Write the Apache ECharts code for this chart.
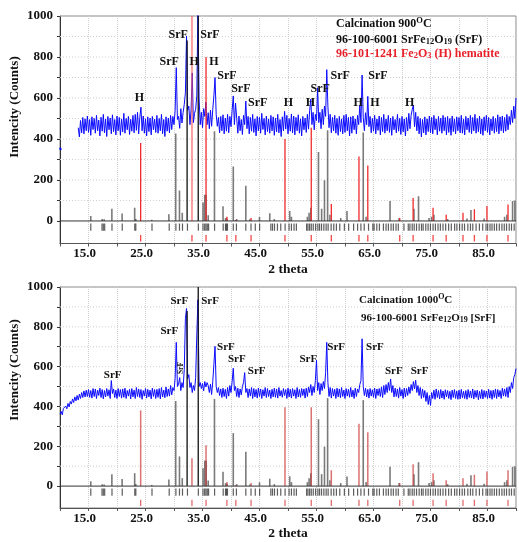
<!DOCTYPE html>
<html><head><meta charset="utf-8">
<script src="https://cdn.jsdelivr.net/npm/echarts@6/dist/echarts.min.js"></script>
<style>html,body{margin:0;padding:0;background:#fff}#c{width:519px;height:542px}</style>
</head><body><div id="c"></div>
<script>
const SERIF = '"Liberation Serif","Times New Roman",serif';

// axes
const thetaMin = 10, thetaMax = 90, thetaTickStep = 5;
const xTickLabels = [15, 25, 35, 45, 55, 65, 75, 85];
const yMin = -110, yMax = 1000;
const yLabelValues = [0, 200, 400, 600, 800, 1000];
const yGridValues = [100, 200, 300, 400, 500, 600, 700, 800, 900, 1000];
const yTickValues = [0, 100, 200, 300, 400, 500, 600, 700, 800, 900, 1000];

// measured scans (counts), regular 2-theta steps
const scanStep = 0.2;
const scanTopStart = 13.2;
const scanTopCounts = [
 455,410,490,430,
 505,425,498,440,512, 432,495,418,508,446, 500,428,515,440,492, 415,506,438,520,430,
 497,412,510,445,502, 425,518,436,495,420, 512,440,505,418,498, 435,525,428,500,445,
 510,422,496,438,515, 430,520,442,530,425, 505,555,440,512,428, 498,415,508,436,502,
 420,510,445,497,432, 515,428,500,440,520, 426,495,412,508,438, 502,430,515,446,510,
 470,540,748,495,510, 452,548,478,530,568, 625,902,540,560,470, 545,722,480,525,545,
 610,1040,600,470,530, 455,548,510,580,470, 528,450,540,462,545, 610,700,520,462,505,
 430,510,440,518,425, 502,438,520,430,510, 460,540,610,470,575, 500,428,512,440,495,
 422,515,470,585,450, 510,425,505,438,520, 432,498,415,510,440, 505,428,525,446,500,
 420,512,436,498,428, 515,440,508,418,502, 435,520,430,495,412, 508,440,535,448,515,
 425,500,438,522,430, 512,420,505,440,518, 428,498,415,510,445, 502,432,520,448,540,
 595,470,530,445,520, 490,650,480,530,450, 545,470,560,510,738, 560,455,520,430,505,
 440,515,428,500,418, 510,436,498,425,515, 432,520,440,505,415, 508,428,512,445,498,
 425,515,470,565,480, 712,505,440,528,470, 608,460,510,430,500, 438,515,425,498,442,
 512,420,505,436,520, 428,498,440,515,432, 502,418,510,445,495, 430,520,438,500,422,
 510,435,498,415,505, 440,525,450,515,545, 565,460,530,440,510, 425,500,410,495,430,
 508,420,498,436,512, 430,505,425,515,445, 498,420,510,438,502, 428,515,440,505,420,
 510,432,500,418,512, 436,498,425,508,440, 505,430,515,428,498, 420,510,445,502,432,
 515,426,505,440,520, 428,500,435,512,425, 498,418,508,440,515, 432,505,420,498,440,
 510,428,500,436,518, 425,508,440,512,430, 505,438,520,445,510, 470,540,480,560,500,
 600
];
const scanTopLeadTheta = [10.0, 10.15];
const scanTopLeadCounts = [358, 346];

const scanBottomStart = 10.0;
const scanBottomCounts = [
 362,375,358,390,380, 402,388,415,398,425, 412,438,420,448,428, 455,432,462,440,470,
 445,478,448,482,450, 485,446,480,442,490, 450,488,440,482,455, 492,445,485,438,480,
 448,490,452,484,440, 530,465,488,445,482, 440,490,450,485,442, 488,446,492,440,480,
 452,486,438,490,448, 482,440,495,450,488, 445,485,436,480,452, 490,442,486,448,482,
 438,492,450,485,440, 486,446,490,438,495, 448,482,444,498,450, 488,452,505,458,495,
 480,540,722,500,512, 545,480,520,495,585, 842,892,540,560,495, 520,470,505,480,545,
 760,936,500,520,490, 515,478,525,498,520, 505,470,512,460,525, 612,702,500,470,495,
 455,488,445,492,450, 486,440,495,452,505, 470,525,592,480,500, 450,492,445,488,458,
 500,520,570,470,490, 445,488,452,495,440, 490,448,485,442,492, 450,488,440,484,452,
 495,445,490,450,482, 440,486,448,492,446, 488,442,495,452,480, 446,490,455,485,440,
 492,448,486,442,490, 452,484,440,495,448, 485,446,490,455,488, 442,492,450,498,470,
 510,455,500,470,530, 632,480,520,460,515, 480,525,490,570,722, 520,450,495,442,490,
 452,486,440,492,448, 488,444,495,450,482, 440,490,452,486,446, 495,448,482,440,492,
 450,488,470,510,530, 740,500,455,492,448, 486,442,490,452,484, 446,492,440,488,455,
 490,450,498,445,505, 460,510,470,520,480, 538,470,505,448,492, 450,488,442,495,452,
 485,440,492,448,490, 455,498,465,510,480, 525,488,532,470,505, 455,495,440,488,445,
 480,425,470,410,455, 405,470,440,482,436, 488,445,480,438,485, 442,478,436,484,448,
 480,440,476,434,482, 445,485,440,478,436, 482,438,486,444,476, 440,480,436,485,445,
 478,442,488,438,480, 446,482,434,476,440, 485,438,480,446,478, 440,486,442,480,436,
 482,445,488,440,485, 448,480,440,492,452, 488,450,495,445,500, 470,520,490,545,560,
 590
];

// reference patterns: SrFe12O19 (black) and Fe2O3 hematite (red)
const srfTheta = [15.4,17.4,17.75,19.1,20.9,23.1,23.3,26.1,29.1,30.3,30.96,31.45,32.3,34.25,35.1,35.4,35.65,36.0,37.1,38.6,39.05,39.3,40.4,41.0,42.6,43.3,45.0,46.8,47.6,50.3,50.6,53.4,53.7,54.0,55.35,55.9,56.4,56.95,57.35,59.25,60.35,63.2,63.7,67.9,69.5,72.1,72.9,74.75,75.2,75.6,78.0,81.4,82.1,84.4,88.0,88.4,89.4,89.8];
const srfHeight = [24,9,8,60,36,65,10,6,33,427,149,40,880,1000,90,128,128,28,438,72,15,12,266,10,172,8,19,37,10,49,20,20,40,65,336,60,198,442,30,15,48,432,20,97,15,60,120,15,20,30,10,12,54,12,20,30,97,100];
const hemTheta = [24.15,33.15,35.62,39.28,40.85,43.52,49.47,54.08,57.6,62.45,64.0,69.6,71.95,75.45,77.75,80.7,82.7,84.9,88.6];
const hemHeightTop = [380,1000,800,20,5,15,400,455,83,314,270,15,112,65,30,40,57,73,80];
const hemHeightBottom = [380,140,205,20,5,15,396,396,80,313,270,15,110,65,30,40,57,73,80];
const srfTickTheta = [15.4,17.37,17.6,17.84,19.12,20.92,23.12,23.3,26.14,29.16,30.33,30.96,31.49,32.36,34.27,35.09,35.38,35.61,35.84,36.07,37.12,38.63,39.04,39.21,39.38,40.4,40.95,42.6,43.51,44.26,45.02,46.99,47.28,47.63,48.15,48.73,49.49,50.19,50.6,51.06,51.47,53.27,53.5,53.79,54.08,54.43,54.84,55.24,55.53,55.88,56.29,56.69,57.04,57.57,58.03,58.49,59.08,59.89,60.64,61.51,62.21,62.79,63.37,64.13,64.88,65.11,65.58,66.04,66.74,67.2,67.61,68.08,68.48,68.95,69.35,70.34,71.1,71.39,71.79,72.14,72.55,73.01,73.42,73.71,74.17,74.58,74.99,75.45,75.86,76.32,76.73,77.19,77.66,78.18,78.65,79.23,79.63,80.1,80.56,80.97,81.55,82.01,82.42,83.0,83.58,84.16,84.74,85.03,85.44,85.79,86.2,86.6,87.07,87.53,87.94,88.34,88.81,89.21,89.68];

// peak annotations (theta, counts, text)
const peakTopTheta = [23.94,29.17,30.74,33.53,36.32,37.02,39.28,41.72,44.68,50.09,53.92,55.66,59.15,65.77,62.29,65.25,71.35];
const peakTopCount = [600,775,907,775,907,775,707,643,575,575,575,643,707,707,575,575,575];
const peakTopText = ['H','SrF','SrF','H','SrF','H','SrF','SrF','SrF','H','H','SrF','SrF','SrF','H','H','H'];
const peakBottomTheta = [19.24,29.17,30.92,36.32,39.1,41.02,44.51,53.57,58.45,65.25,68.56,73.09];
const peakBottomCount = [559,780,931,931,696,637,579,637,696,696,579,579];
const peakBottomText = ['SrF','SrF','SrF','SrF','SrF','SrF','SrF','SrF','SrF','SrF','SrF','SrF'];
const peakBottomSmall = {theta: 31.26, count: 593, text: 'SrF'};

function scanData(start, counts) { return counts.map((c, i) => [+(start + i * scanStep).toFixed(2), c]); }

function stickSeries(gi, thetas, heights, colorFn, z) {
  return {
    type: 'custom', xAxisIndex: gi, yAxisIndex: gi, z: z, silent: true, clip: true,
    data: thetas.map((t, i) => [t, heights[i]]),
    renderItem: (p, api) => {
      const a = api.coord([api.value(0), 0]), b = api.coord([api.value(0), api.value(1)]);
      const st = colorFn(api.value(1));
      return { type: 'line', shape: { x1: a[0], y1: a[1], x2: b[0], y2: b[1] }, style: { stroke: st.c, lineWidth: st.w } };
    }
  };
}
function tickRowSeries(gi, thetas, y0, y1, color, w) {
  return {
    type: 'custom', xAxisIndex: gi, yAxisIndex: gi, z: 4, silent: true, clip: true,
    data: thetas.map(t => [t, y0]),
    renderItem: (p, api) => {
      const a = api.coord([api.value(0), y0]), b = api.coord([api.value(0), y1]);
      return { type: 'line', shape: { x1: a[0], y1: a[1], x2: b[0], y2: b[1] }, style: { stroke: color, lineWidth: w } };
    }
  };
}
function hLineSeries(gi, values, style, z) {
  return {
    type: 'custom', xAxisIndex: gi, yAxisIndex: gi, z: z, silent: true,
    data: values.map(v => [thetaMin, v]),
    renderItem: (p, api) => {
      const a = api.coord([thetaMin, api.value(1)]), b = api.coord([thetaMax, api.value(1)]);
      return { type: 'line', shape: { x1: a[0], y1: a[1], x2: b[0], y2: b[1] }, style: style };
    }
  };
}
function labelSeries(gi, thetas, counts, texts, size, rot) {
  return {
    type: 'custom', xAxisIndex: gi, yAxisIndex: gi, z: 10, silent: true,
    data: thetas.map((t, i) => [t, counts[i], i]),
    renderItem: (p, api) => {
      const c = api.coord([api.value(0), api.value(1)]);
      return { type: 'text', x: c[0], y: c[1], rotation: rot || 0,
        style: { text: texts[api.value(2)], fill: '#111', fontFamily: SERIF, fontWeight: 'bold', fontSize: size, align: 'center', verticalAlign: 'middle' } };
    }
  };
}

function xAxis(gi) {
  return {
    type: 'value', gridIndex: gi, min: thetaMin, max: thetaMax, interval: thetaTickStep,
    name: '2 theta', nameLocation: 'middle', nameGap: 19,
    nameTextStyle: { fontFamily: SERIF, fontWeight: 'bold', fontSize: 13.5, color: '#111' },
    axisLine: { onZero: false, lineStyle: { color: '#555', width: 1 } },
    axisTick: { show: true, length: 3, lineStyle: { color: '#555' } },
    axisLabel: { margin: 4, padding: [0, 8, 0, 0], fontFamily: SERIF, fontWeight: 'bold', fontSize: 13, color: '#111',
      formatter: v => xTickLabels.indexOf(Math.round(v)) >= 0 && Math.abs(v - Math.round(v)) < 1e-6 ? v.toFixed(1) : '' },
    splitLine: { show: true, lineStyle: { type: 'dotted', color: '#d0d0d0', width: 1 } }
  };
}
function yAxis(gi) {
  return {
    type: 'value', gridIndex: gi, min: yMin, max: yMax,
    axisLine: { show: true, lineStyle: { color: '#333', width: 1 } },
    axisTick: { show: true, length: 3, customValues: yTickValues, lineStyle: { color: '#333' } },
    axisLabel: { customValues: yLabelValues, margin: 7, fontFamily: SERIF, fontWeight: 'bold', fontSize: 13, color: '#111',
      formatter: v => String(Math.round(v)) },
    splitLine: { show: false }
  };
}

const gridStyle = { stroke: '#cfcfcf', lineWidth: 1, lineDash: [1, 2] };
const zeroStyle = { stroke: '#333', lineWidth: 1 };
const srfColor = h => h >= 800 ? { c: '#111', w: 1.3 } : { c: 'rgba(40,40,40,0.62)', w: 1.6 };
const hemColorTop = h => h >= 1000 ? { c: 'rgba(245,80,80,0.55)', w: 2 } : { c: '#f02a2a', w: 1.3 };
const hemColorBottom = h => ({ c: 'rgba(205,60,60,0.72)', w: 1.5 });

const series = [];
[0, 1].forEach(gi => {
  series.push(hLineSeries(gi, yGridValues, gridStyle, 1));
});
// top panel
series.push({ type: 'line', xAxisIndex: 0, yAxisIndex: 0, z: 3, showSymbol: false, silent: true, clip: true,
  data: scanData(scanTopStart, scanTopCounts), lineStyle: { color: '#0b0bff', width: 1 } });
series.push({ type: 'line', xAxisIndex: 0, yAxisIndex: 0, z: 3, showSymbol: false, silent: true,
  data: scanTopLeadTheta.map((t, i) => [t, scanTopLeadCounts[i]]), lineStyle: { color: '#0b0bff', width: 2 } });
series.push(stickSeries(0, srfTheta, srfHeight, srfColor, 5));
series.push(stickSeries(0, hemTheta, hemHeightTop, hemColorTop, 6));
series.push(hLineSeries(0, [0], zeroStyle, 7));
series.push(tickRowSeries(0, srfTickTheta, -12, -48, 'rgba(30,30,30,0.72)', 1.2));
series.push(tickRowSeries(0, hemTheta, -68, -100, 'rgba(240,40,40,0.85)', 1.3));
series.push(labelSeries(0, peakTopTheta, peakTopCount, peakTopText, 12));
// bottom panel
series.push({ type: 'line', xAxisIndex: 1, yAxisIndex: 1, z: 3, showSymbol: false, silent: true, clip: true,
  data: scanData(scanBottomStart, scanBottomCounts), lineStyle: { color: '#0b0bff', width: 1 } });
series.push(stickSeries(1, srfTheta, srfHeight, srfColor, 5));
series.push(stickSeries(1, hemTheta, hemHeightBottom, hemColorBottom, 6));
series.push(hLineSeries(1, [0], zeroStyle, 7));
series.push(tickRowSeries(1, srfTickTheta, -12, -48, 'rgba(30,30,30,0.72)', 1.2));
series.push(tickRowSeries(1, hemTheta, -68, -100, 'rgba(215,60,60,0.75)', 1.3));
series.push(labelSeries(1, peakBottomTheta, peakBottomCount, peakBottomText, 11));
series.push(labelSeries(1, [peakBottomSmall.theta], [peakBottomSmall.count], [peakBottomSmall.text], 7.5, Math.PI / 2));

const subStyle = (fs) => ({ fontFamily: SERIF, fontWeight: 'bold', fontSize: fs, padding: [4, 0, 0, 0] });
const supStyle = (fs) => ({ fontFamily: SERIF, fontWeight: 'bold', fontSize: fs, padding: [0, 0, 7, 0] });

const chart = echarts.init(document.getElementById('c'), null, { renderer: 'canvas' });
chart.setOption({
  animation: false,
  backgroundColor: '#fff',
  grid: [
    { left: 60, right: 0, top: 16, height: 227.5, show: true, borderColor: '#888', borderWidth: 1 },
    { left: 60, right: 0, top: 287, height: 226.5, show: true, borderColor: '#888', borderWidth: 1 }
  ],
  xAxis: [xAxis(0), xAxis(1)],
  yAxis: [yAxis(0), yAxis(1)],
  series: series,
  graphic: [
    { type: 'text', x: 15, y: 107, rotation: Math.PI / 2, z: 20,
      style: { text: 'Intencity (Counts)', fontFamily: SERIF, fontWeight: 'bold', fontSize: 13, fill: '#111', align: 'center', verticalAlign: 'middle' } },
    { type: 'text', x: 15, y: 370, rotation: Math.PI / 2, z: 20,
      style: { text: 'Intencity (Counts)', fontFamily: SERIF, fontWeight: 'bold', fontSize: 13, fill: '#111', align: 'center', verticalAlign: 'middle' } },
    { type: 'text', x: 336, y: 24, z: 20,
      style: { text: 'Calcination 900{sup|O}C', fontFamily: SERIF, fontWeight: 'bold', fontSize: 12, fill: '#111', verticalAlign: 'middle',
        rich: { sup: supStyle(8.5) } } },
    { type: 'text', x: 336, y: 40, z: 20,
      style: { text: '96-100-6001 SrFe{sub|12}O{sub|19} (SrF)', fontFamily: SERIF, fontWeight: 'bold', fontSize: 12, fill: '#111', verticalAlign: 'middle',
        rich: { sub: subStyle(8.5) } } },
    { type: 'text', x: 336, y: 54, z: 20,
      style: { text: '96-101-1241 Fe{sub|2}O{sub|3} (H) hematite', fontFamily: SERIF, fontWeight: 'bold', fontSize: 12, fill: '#e8202a', verticalAlign: 'middle',
        rich: { sub: Object.assign(subStyle(8.5), { fill: '#e8202a' }) } } },
    { type: 'text', x: 359, y: 300, z: 20,
      style: { text: 'Calcination 1000{sup|O}C', fontFamily: SERIF, fontWeight: 'bold', fontSize: 11, fill: '#111', verticalAlign: 'middle',
        rich: { sup: supStyle(8) } } },
    { type: 'text', x: 361, y: 318, z: 20,
      style: { text: '96-100-6001 SrFe{sub|12}O{sub|19} [SrF]', fontFamily: SERIF, fontWeight: 'bold', fontSize: 11, fill: '#111', verticalAlign: 'middle',
        rich: { sub: subStyle(8) } } }
  ]
});
</script></body></html>
